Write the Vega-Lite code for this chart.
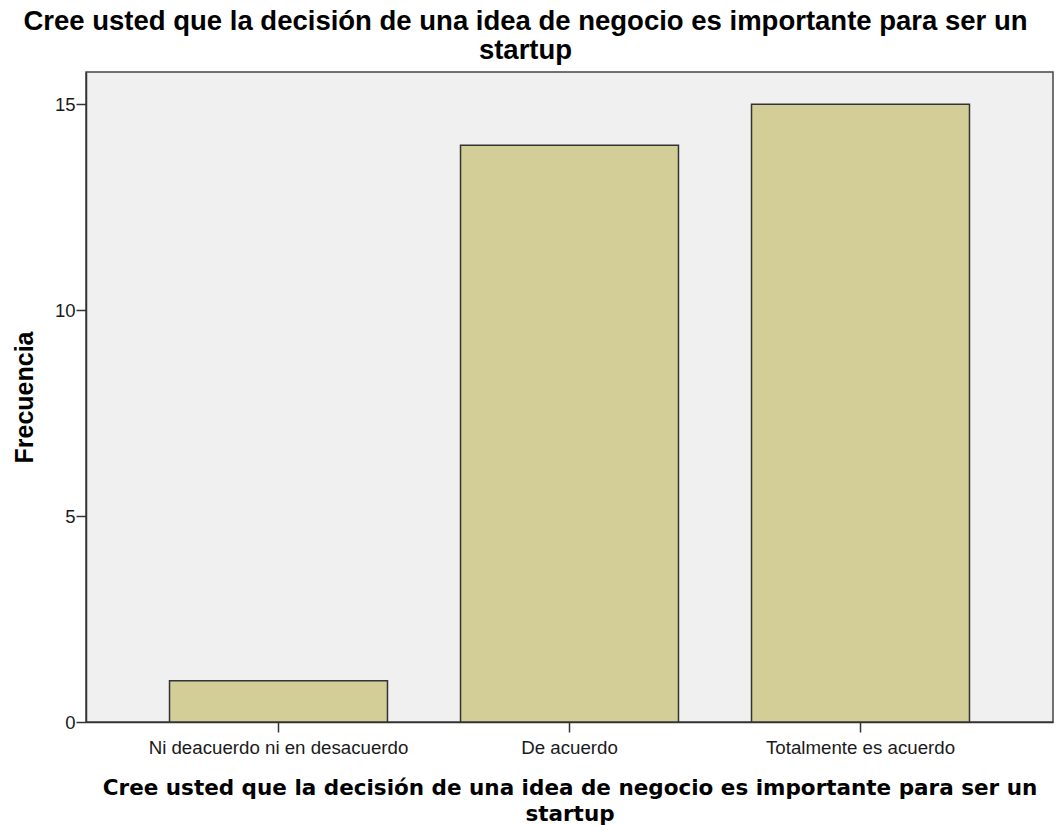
{
  "$schema": "https://vega.github.io/schema/vega-lite/v6.json",
  "autosize": {"type": "none"},
  "width": 967,
  "height": 650,
  "padding": {"left": 86, "top": 72, "right": 2, "bottom": 103},
  "background": "white",
  "title": {
    "text": ["Cree usted que la decisión de una idea de negocio es importante para ser un", "startup"],
    "font": "Liberation Sans",
    "fontSize": 27.5,
    "fontWeight": "bold",
    "color": "#000000",
    "anchor": "middle",
    "frame": "group",
    "dx": -44,
    "lineHeight": 28.5,
    "offset": 8
  },
  "data": {
    "values": [
      {"categoria": "Ni deacuerdo ni en desacuerdo", "frecuencia": 1},
      {"categoria": "De acuerdo", "frecuencia": 14},
      {"categoria": "Totalmente es acuerdo", "frecuencia": 15}
    ]
  },
  "mark": {"type": "bar", "color": "#D3CE97", "stroke": "#333333", "strokeWidth": 1.5},
  "encoding": {
    "x": {
      "field": "categoria",
      "type": "nominal",
      "sort": null,
      "scale": {"paddingInner": 0.251, "paddingOuter": 0.287},
      "axis": {
        "title": ["Cree usted que la decisión de una idea de negocio es importante para ser un", "startup"],
        "titleFont": "DejaVu Sans",
        "titleFontSize": 21.5,
        "titleFontWeight": "bold",
        "titleColor": "#000000",
        "titleLineHeight": 26,
        "titlePadding": 21,
        "labelAngle": 0,
        "labelLimit": 0,
        "labelFont": "Liberation Sans",
        "labelFontSize": 18.7,
        "labelColor": "#1a1a1a",
        "labelPadding": 6,
        "tickSize": 10,
        "tickColor": "#333333",
        "tickWidth": 1.5,
        "domainColor": "#333333",
        "domainWidth": 1.5,
        "grid": false
      }
    },
    "y": {
      "field": "frecuencia",
      "type": "quantitative",
      "scale": {"domain": [0, 15.78], "nice": false},
      "axis": {
        "title": "Frecuencia",
        "titleFont": "Liberation Sans",
        "titleFontSize": 25,
        "titleFontWeight": "bold",
        "titleColor": "#000000",
        "titleX": -54,
        "titleY": 325,
        "titleAngle": -90,
        "titleAlign": "center",
        "titleBaseline": "alphabetic",
        "values": [0, 5, 10, 15],
        "labelFont": "Liberation Sans",
        "labelFontSize": 18.5,
        "labelColor": "#1a1a1a",
        "labelPadding": 1,
        "tickSize": 10,
        "tickColor": "#333333",
        "tickWidth": 1.5,
        "domainColor": "#333333",
        "domainWidth": 1.5,
        "grid": false
      }
    }
  },
  "config": {
    "view": {"fill": "#F0F0F0", "stroke": "#444444", "strokeWidth": 1.5}
  }
}
